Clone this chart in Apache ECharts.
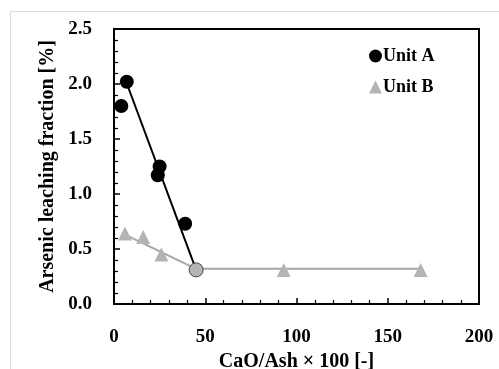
<!DOCTYPE html>
<html><head><meta charset="utf-8">
<script src="https://cdn.jsdelivr.net/npm/echarts@6/dist/echarts.min.js"></script>
<style>html,body{margin:0;padding:0;background:#fff}#c{width:499px;height:369px}</style>
</head><body><div id="c"></div>
<script>
const unitAX = [4, 7, 25, 24, 39, 45];
const unitAY = [1.80, 2.02, 1.25, 1.17, 0.73, 0.31];
const unitBX = [6, 16, 26, 93, 168];
const unitBY = [0.64, 0.61, 0.45, 0.31, 0.31];
const fitAX = [6, 45];
const fitAY = [2.05, 0.31];
const fitBX = [6, 45, 168];
const fitBY = [0.63, 0.32, 0.32];
const xTicks = [0, 50, 100, 150, 200];
const yTicks = [0, 0.5, 1.0, 1.5, 2.0, 2.5];

const FONT = '"Liberation Serif", "Times New Roman", serif';
const zip = (xs, ys) => xs.map((x, i) => [x, ys[i]]);
const dataA = zip(unitAX, unitAY).map((p, i) => i === unitAX.length - 1
  ? { value: p, itemStyle: { color: '#b4b4b4', borderColor: '#444', borderWidth: 1 } }
  : p);

const chart = echarts.init(document.getElementById('c'), null, { renderer: 'canvas' });
chart.setOption({
  animation: false,
  backgroundColor: '#fff',
  graphic: [{
    type: 'rect', left: 8, top: 9, silent: true, z: -10,
    shape: { width: 520, height: 400 },
    style: { fill: 'none', stroke: '#dcdcdc', lineWidth: 1 }
  }],
  grid: { left: 114, top: 29, right: 20, bottom: 65, show: true, borderColor: '#000', borderWidth: 2,
    containLabel: false, outerBoundsMode: 'none' },
  legend: {
    orient: 'vertical', left: 364, top: 42, itemWidth: 13, itemHeight: 13, itemGap: 13,
    data: [{ name: 'Unit A', icon: 'circle' }, { name: 'Unit B', icon: 'triangle' }],
    textStyle: { fontFamily: FONT, fontWeight: 'bold', fontSize: 18, color: '#000', padding: [0, 0, 0, -4] }
  },
  xAxis: {
    type: 'value', min: xTicks[0], max: xTicks[xTicks.length - 1], interval: 50,
    name: 'CaO/Ash × 100 [-]', nameLocation: 'middle', nameGap: 47,
    nameTextStyle: { fontFamily: FONT, fontWeight: 'bold', fontSize: 20, color: '#000' },
    axisLine: { lineStyle: { color: '#000', width: 2 } },
    axisTick: { inside: true, length: 6, lineStyle: { color: '#000', width: 1.5 } },
    minorTick: { show: true, splitNumber: 5, length: 4, lineStyle: { color: '#000', width: 1.2 } },
    splitLine: { show: false },
    axisLabel: { margin: 24, fontFamily: FONT, fontWeight: 'bold', fontSize: 19, color: '#000' }
  },
  yAxis: {
    type: 'value', min: yTicks[0], max: yTicks[yTicks.length - 1], interval: 0.5,
    name: 'Arsenic leaching fraction [%]', nameLocation: 'middle', nameGap: 56,
    nameTextStyle: { fontFamily: FONT, fontWeight: 'bold', fontSize: 20, color: '#000' },
    axisLine: { lineStyle: { color: '#000', width: 2 } },
    axisTick: { inside: true, length: 6, lineStyle: { color: '#000', width: 1.5 } },
    minorTick: { show: true, splitNumber: 5, length: 4, lineStyle: { color: '#000', width: 1.2 } },
    splitLine: { show: false },
    axisLabel: { margin: 22, fontFamily: FONT, fontWeight: 'bold', fontSize: 19, color: '#000',
      formatter: v => v.toFixed(1) }
  },
  series: [
    { name: 'fitB', type: 'line', data: zip(fitBX, fitBY), symbol: 'none', z: 1,
      lineStyle: { color: '#a6a6a6', width: 2 } },
    { name: 'fitA', type: 'line', data: zip(fitAX, fitAY), symbol: 'none', z: 2,
      lineStyle: { color: '#000', width: 2 } },
    { name: 'Unit B', type: 'scatter', data: zip(unitBX, unitBY), symbol: 'triangle', symbolSize: 14, z: 3,
      itemStyle: { color: '#b4b4b4', opacity: 1 } },
    { name: 'Unit A', type: 'scatter', data: dataA, symbol: 'circle', symbolSize: 14, z: 4,
      itemStyle: { color: '#000', opacity: 1 } }
  ]
});
</script></body></html>
